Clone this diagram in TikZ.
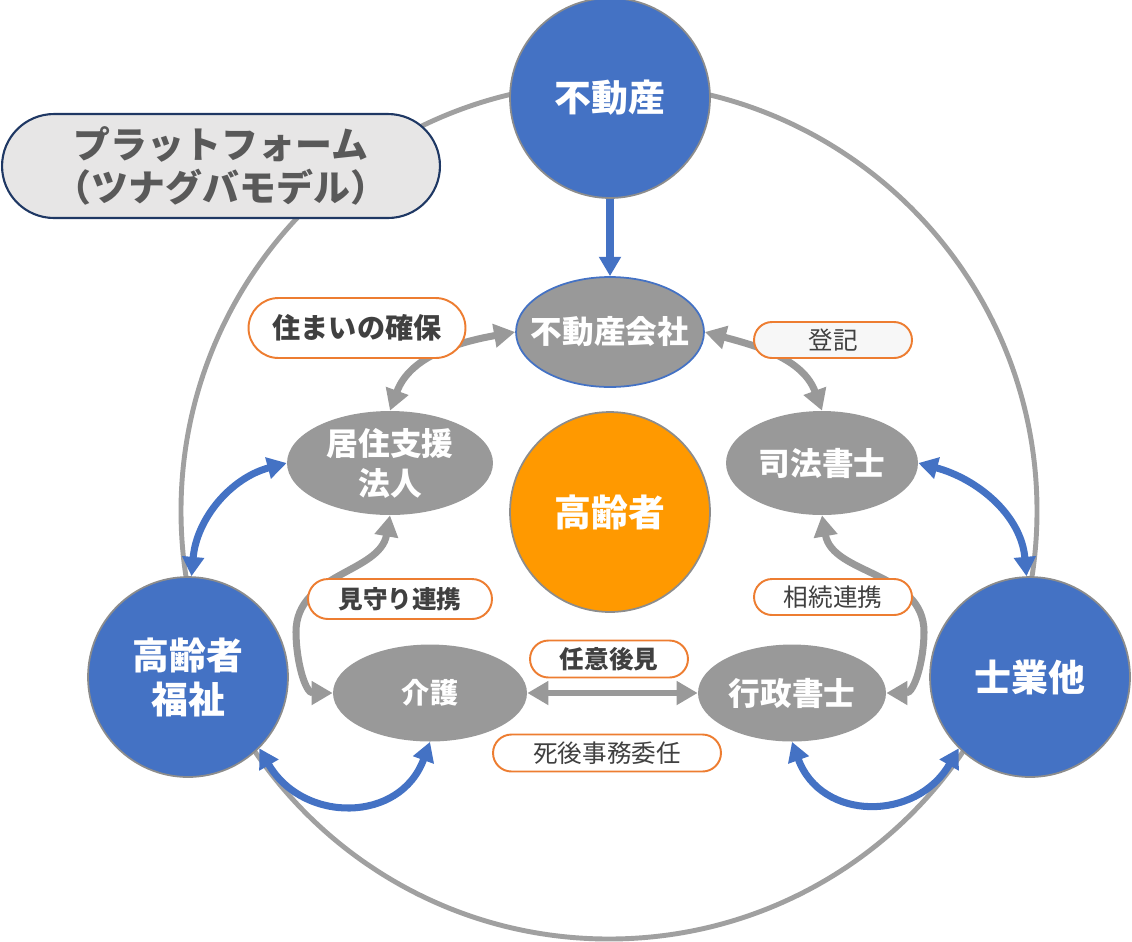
\documentclass[tikz,border=0pt]{standalone}
\usepackage{fontspec}
\setmainfont{Noto Sans CJK JP}
\usepackage{tikz}
\usetikzlibrary{arrows.meta,shapes.geometric,shapes.misc}
\definecolor{tblue}{HTML}{4472C4}
\definecolor{tgray}{HTML}{999999}
\definecolor{ringgray}{HTML}{A0A0A0}
\definecolor{torange}{HTML}{FF9900}
\definecolor{lborder}{HTML}{ED7D31}
\definecolor{ltext}{HTML}{404040}
\definecolor{ptext}{HTML}{595959}
\definecolor{pfill}{HTML}{E7E6E6}
\definecolor{pborder}{HTML}{1F3864}
\definecolor{cborder}{HTML}{8C8C8C}
\definecolor{tagfill}{HTML}{F7F7F7}

\begin{document}
\begin{tikzpicture}[x=0.02cm,y=-0.02cm,
  bigcircle/.style={circle,draw=cborder,line width=1pt,fill=tblue,minimum size=4cm,inner sep=0pt,text=white,font=\bfseries\fontsize{21}{25}\selectfont,align=center},
  member/.style={ellipse,fill=tgray,inner sep=0pt,text=white,font=\bfseries\fontsize{18}{22.7}\selectfont,align=center},
  tag/.style={rounded rectangle,draw=lborder,line width=1.1pt,fill=white,inner sep=0pt,text=ltext,font=\fontsize{14}{16}\selectfont},
  tagbold/.style={tag,font=\bfseries\fontsize{14}{16}\selectfont},
  graylink/.style={draw=tgray,line width=4pt,{Triangle[length=12pt,width=13pt]}-{Triangle[length=12pt,width=13pt]}},
  bluelink/.style={draw=tblue,line width=4pt,{Triangle[length=11pt,width=12pt]}-{Triangle[length=11pt,width=12pt]}},
  bluearrow/.style={draw=tblue,line width=4pt,-{Triangle[length=11pt,width=12pt]}}]
\useasboundingbox (0,0) rectangle (1132,941);
\draw[ringgray,line width=2.8pt] (609,511) circle [radius=428];

\node[rounded rectangle,draw=pborder,line width=1.2pt,fill=pfill,minimum width=8.76cm,minimum height=2.08cm,inner sep=0pt,text=ptext,font=\bfseries\fontsize{21}{24.4}\selectfont,align=center] (platform) at (221,166) {プラットフォーム\\（ツナグバモデル）};

\node[bigcircle] (fudosan) at (610,98) {不動産};
\node[bigcircle] (fukushi) at (188,677) {高齢者\\福祉};
\node[bigcircle] (shigyo) at (1030,677) {士業他};
\node[bigcircle,fill=torange] (koreisha) at (610,512) {高齢者};
\node[member,draw=tblue,line width=1pt,minimum width=3.76cm,minimum height=2.2cm] (kaisha) at (610,332) {\makebox[0pt]{不動産会社}};
\node[member,minimum width=4.12cm,minimum height=2.08cm] (kyoju) at (390,463) {居住支援\\法人};
\node[member,minimum width=3.84cm,minimum height=2.08cm] (shiho) at (822,463) {司法書士};
\node[member,minimum width=3.88cm,minimum height=1.94cm,font=\bfseries\fontsize{16}{18}\selectfont] (kaigo) at (430,693) {介護};
\node[member,minimum width=3.76cm,minimum height=1.94cm] (gyosei) at (792,693) {行政書士};

\coordinate (mbend) at (296,632);
\coordinate (sbend) at (924,632);

\draw[bluearrow] (fudosan) -- (kaisha);
\draw[bluelink] (fukushi.88) to[out=85,in=195] (kyoju.west);
\draw[bluelink] (fukushi.-45) to[out=-60,in=-110,looseness=1.3] (kaigo.south);
\draw[bluelink] (shigyo.92) to[out=95,in=-15] (shiho.east);
\draw[bluelink] (shigyo.225) to[out=-120,in=-70,looseness=1.3] (gyosei.south);

\draw[graylink] (kyoju.north) to[out=70,in=190] (kaisha.west);
\draw[graylink] (shiho.north) to[out=110,in=-15] (kaisha.east);
\draw[graylink] (kyoju.south) to[out=-100,in=90] (mbend) to[out=-90,in=180] (kaigo.west);
\draw[graylink] (shiho.south) to[out=-80,in=90] (sbend) to[out=-90,in=0] (gyosei.east);
\draw[graylink,line width=3pt] (kaigo.east) -- (gyosei.west);

\node[tagbold,minimum width=4.34cm,minimum height=1.2cm,font=\bfseries\fontsize{16}{18}\selectfont] (sumai) at (357,328) {住まいの確保};
\node[tag,fill=tagfill,minimum width=3.16cm,minimum height=0.72cm] (toki) at (833,340) {登記};
\node[tagbold,minimum width=3.68cm,minimum height=0.8cm] (mimamori) at (400,599) {見守り連携};
\node[tag,minimum width=3.16cm,minimum height=0.72cm] (sozoku) at (833,597) {相続連携};
\node[tagbold,minimum width=3.16cm,minimum height=0.74cm] (nini) at (609,659) {任意後見};
\node[tag,minimum width=4.56cm,minimum height=0.74cm] (shigo) at (607,753) {死後事務委任};
\end{tikzpicture}
\end{document}
